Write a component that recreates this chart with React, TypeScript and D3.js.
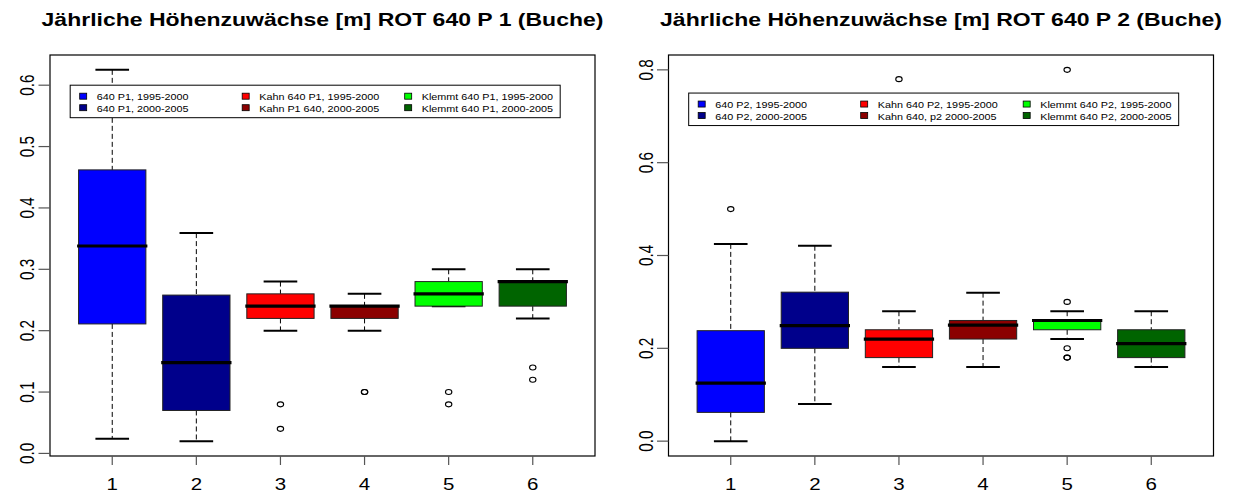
import React from 'react';
import * as d3 from 'd3';

// ---------- data ----------
const categories = [1, 2, 3, 4, 5, 6];
const fillColors = ['#0000FF', '#00008B', '#FF0000', '#8B0000', '#00FF00', '#006400'];

const titleP1 = 'Jährliche Höhenzuwächse [m] ROT 640 P 1 (Buche)';
const titleP2 = 'Jährliche Höhenzuwächse [m] ROT 640 P 2 (Buche)';

const p1Min = [0.024, 0.02, 0.2, 0.2, 0.24, 0.22];
const p1Q1 = [0.211, 0.07, 0.22, 0.22, 0.24, 0.24];
const p1Median = [0.338, 0.148, 0.24, 0.24, 0.26, 0.28];
const p1Q3 = [0.462, 0.258, 0.26, 0.24, 0.28, 0.28];
const p1Max = [0.625, 0.359, 0.28, 0.26, 0.3, 0.3];
const p1Outliers = [[], [], [0.08, 0.04], [0.1, 0.1], [0.1, 0.08], [0.14, 0.12]];
const p1Ticks = [0, 0.1, 0.2, 0.3, 0.4, 0.5, 0.6];
const p1Legend = [
  '640 P1, 1995-2000', '640 P1, 2000-2005',
  'Kahn 640 P1, 1995-2000', 'Kahn P1 640, 2000-2005',
  'Klemmt 640 P1, 1995-2000', 'Klemmt 640 P1, 2000-2005',
];
const p1LegendAnchor = [0.5, 0.6];

const p2Min = [0.0, 0.08, 0.16, 0.16, 0.22, 0.16];
const p2Q1 = [0.062, 0.2, 0.18, 0.22, 0.24, 0.18];
const p2Median = [0.125, 0.249, 0.22, 0.25, 0.26, 0.21];
const p2Q3 = [0.238, 0.321, 0.24, 0.26, 0.26, 0.24];
const p2Max = [0.425, 0.421, 0.28, 0.32, 0.28, 0.28];
const p2Outliers = [[0.5], [], [0.78], [], [0.8, 0.3, 0.2, 0.18, 0.18], []];
const p2Ticks = [0, 0.2, 0.4, 0.6, 0.8];
const p2Legend = [
  '640 P2, 1995-2000', '640 P2, 2000-2005',
  'Kahn 640 P2, 1995-2000', 'Kahn 640, p2 2000-2005',
  'Klemmt 640 P2, 1995-2000', 'Klemmt 640 P2, 2000-2005',
];
const p2LegendAnchor = [0.5, 0.75];

// ---------- layout ----------
const W = 1238;
const H = 493;
const FONT = '"Liberation Sans", Arial, Helvetica, sans-serif';
const SX = 1.28; // horizontal stretch of the reference

type PanelProps = {
  offsetX: number;
  title: string;
  mins: number[]; q1: number[]; med: number[]; q3: number[]; maxs: number[];
  outliers: number[][];
  ticks: number[];
  tickFmt: (v: number) => string;
  legend: string[];
  legendAnchor: number[];
};

function SText({ x, y, fs, sx = SX, anchor = 'start', weight = 'normal', rotate = 0, children }: any) {
  const t = `translate(${x},${y}) scale(${sx},1)` + (rotate ? ` rotate(${rotate})` : '');
  return (
    <text transform={t} fontSize={fs} fontFamily={FONT} fontWeight={weight} textAnchor={anchor} fill="#000">
      {children}
    </text>
  );
}

function Panel(p: PanelProps) {
  const left = p.offsetX + 50;
  const right = p.offsetX + 595;
  const top = 55;
  const bottom = 456;

  const x = d3.scaleLinear().domain([0.26, 6.74]).range([left, right]);
  const all = [...p.mins, ...p.maxs, ...p.outliers.flat()];
  const [lo, hi] = d3.extent(all) as [number, number];
  const ext = (hi - lo) * 0.04;
  const y = d3.scaleLinear().domain([lo - ext, hi + ext]).range([bottom, top]);

  const unit = x(2) - x(1);
  const boxHalf = unit * 0.4;
  const stapleHalf = boxHalf * 0.5;

  const legLeft = x(p.legendAnchor[0]);
  const legTop = y(p.legendAnchor[1]);
  const legW = 490;
  const legH = 32.5;
  const colW = 162.5;

  return (
    <g>
      <SText x={(left + right) / 2} y={26} fs={17.7} sx={1.3} anchor="middle" weight="bold">{p.title}</SText>
      {categories.map((c, i) => {
        const cx = x(c);
        return (
          <g key={c}>
            {/* whiskers */}
            <line x1={cx} x2={cx} y1={y(p.maxs[i])} y2={y(p.q3[i])} stroke="#000" strokeWidth={1} strokeDasharray="5,3" />
            <line x1={cx} x2={cx} y1={y(p.q1[i])} y2={y(p.mins[i])} stroke="#000" strokeWidth={1} strokeDasharray="5,3" />
            {/* staples */}
            <line x1={cx - stapleHalf} x2={cx + stapleHalf} y1={y(p.maxs[i])} y2={y(p.maxs[i])} stroke="#000" strokeWidth={2} />
            <line x1={cx - stapleHalf} x2={cx + stapleHalf} y1={y(p.mins[i])} y2={y(p.mins[i])} stroke="#000" strokeWidth={2} />
            {/* box */}
            <rect x={cx - boxHalf} y={y(p.q3[i])} width={boxHalf * 2} height={Math.max(0.5, y(p.q1[i]) - y(p.q3[i]))}
              fill={fillColors[i]} stroke="#222" strokeWidth={1} />
            {/* median */}
            <line x1={cx - boxHalf - 1.5} x2={cx + boxHalf + 1.5} y1={y(p.med[i])} y2={y(p.med[i])} stroke="#000" strokeWidth={3.2} />
            {/* outliers */}
            {p.outliers[i].map((v, j) => (
              <ellipse key={j} cx={cx} cy={y(v)} rx={3.2} ry={2.5} fill="none" stroke="#000" strokeWidth={1.1} />
            ))}
          </g>
        );
      })}
      {/* plot frame */}
      <rect x={left} y={top} width={right - left} height={bottom - top} fill="none" stroke="#000" strokeWidth={1.2} />
      {/* y axis ticks + labels */}
      {p.ticks.map((t) => (
        <g key={t}>
          <line x1={left - 11.5} x2={left} y1={y(t)} y2={y(t)} stroke="#555" strokeWidth={1.2} />
          <SText x={left - 23} y={y(t)} fs={15.3} anchor="middle" rotate={-90}>
            <tspan dy="0.36em">{p.tickFmt(t)}</tspan>
          </SText>
        </g>
      ))}
      {/* x axis ticks + labels */}
      {categories.map((c) => (
        <g key={c}>
          <line x1={x(c)} x2={x(c)} y1={bottom} y2={bottom + 9} stroke="#555" strokeWidth={1.2} />
          <SText x={x(c)} y={490} fs={16} anchor="middle">{String(c)}</SText>
        </g>
      ))}
      {/* legend */}
      <g>
        <rect x={legLeft} y={legTop} width={legW} height={legH} fill="#fff" stroke="#000" strokeWidth={1} />
        {p.legend.map((lab, k) => {
          const col = Math.floor(k / 2);
          const row = k % 2;
          const ry = legTop + 12 + row * 11.5;
          const sqx = legLeft + 13 + col * colW;
          return (
            <g key={k}>
              <rect x={sqx - 3.5} y={ry - 4} width={7} height={6} fill={fillColors[k]} stroke="#000" strokeWidth={0.8} />
              <SText x={legLeft + 26.5 + col * colW} y={ry + 3.2} fs={9} sx={1.2}>{lab}</SText>
            </g>
          );
        })}
      </g>
    </g>
  );
}

export default function App() {
  const fmt1 = d3.format('.1f');
  return (
    <svg width={W} height={H} style={{ position: 'absolute', left: 0, top: 0, background: '#fff' }}>
      <rect x={0} y={0} width={W} height={H} fill="#fff" />
      <Panel offsetX={0} title={titleP1} mins={p1Min} q1={p1Q1} med={p1Median} q3={p1Q3} maxs={p1Max}
        outliers={p1Outliers} ticks={p1Ticks} tickFmt={fmt1} legend={p1Legend} legendAnchor={p1LegendAnchor} />
      <Panel offsetX={618.5} title={titleP2} mins={p2Min} q1={p2Q1} med={p2Median} q3={p2Q3} maxs={p2Max}
        outliers={p2Outliers} ticks={p2Ticks} tickFmt={fmt1} legend={p2Legend} legendAnchor={p2LegendAnchor} />
    </svg>
  );
}
